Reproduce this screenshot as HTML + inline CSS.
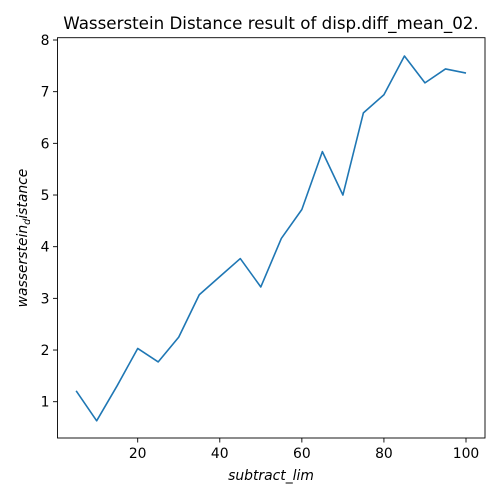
<!DOCTYPE html>
<html><head><meta charset="utf-8"><style>
html,body{margin:0;padding:0;background:#fff;width:500px;height:500px;overflow:hidden}
svg{display:block}
text{font-family:"DejaVu Sans","Liberation Sans",sans-serif;fill:#000}
</style></head><body>
<svg id="chart" width="500" height="500"></svg>
<script>
const xValues=[5,10,15,20,25,30,35,40,45,50,55,60,65,70,75,80,85,90,95,100];
const yValues=[1.21,0.63,1.31,2.03,1.77,2.25,3.07,3.42,3.77,3.22,4.16,4.72,5.84,5.0,6.59,6.94,7.69,7.17,7.44,7.36];
const xTicks=[20,40,60,80,100];
const yTicks=[1,2,3,4,5,6,7,8];
const L=57.5,R=485,T=37.7,B=438;
function sx(v){return 137.7+(v-20)*(466-137.7)/80;}
function sy(v){return 401.7-(v-1)*(401.7-40)/7;}
const svg=document.getElementById('chart');
const NS='http://www.w3.org/2000/svg';
function mk(tag,attrs,txt){const e=document.createElementNS(NS,tag);for(const k in attrs)e.setAttribute(k,attrs[k]);if(txt!==undefined)e.textContent=txt;svg.appendChild(e);return e;}
let t=mk('text',{x:271,y:29,'font-size':'16.7','text-anchor':'middle'},'Wasserstein Distance result of disp.diff_mean_02.');


let pts=xValues.map((x,i)=>sx(x).toFixed(2)+','+sy(yValues[i]).toFixed(2)).join(' ');
let line=mk('polyline',{points:pts,fill:'none',stroke:'#1f77b4','stroke-width':'1.6','stroke-linejoin':'round'});


let frame=mk('rect',{x:L,y:T,width:R-L,height:B-T,fill:'none',stroke:'#000','stroke-width':'0.9'});


xTicks.forEach(v=>{
  const x=sx(v);
  let tk=mk('line',{x1:x,x2:x,y1:B,y2:B+4.5,stroke:'#000','stroke-width':'0.9'});
  
  
  let lb=mk('text',{x:x,y:B+20,'font-size':'13.9','text-anchor':'middle'},String(v));
  
  
});
yTicks.forEach(v=>{
  const y=sy(v);
  let tk=mk('line',{x1:L-4.5,x2:L,y1:y,y2:y,stroke:'#000','stroke-width':'0.9'});
  
  
  let lb=mk('text',{x:L-8,y:y+5,'font-size':'13.9','text-anchor':'end'},String(v));
  
  
});
let xt=mk('text',{x:271,y:480,'font-size':'13.9','text-anchor':'middle','font-style':'italic'},'subtract_lim');


let yt=mk('text',{x:0,y:0,'font-size':'13.9','text-anchor':'middle','font-style':'italic',transform:'translate(27,238) rotate(-90)'});


const s1=document.createElementNS(NS,'tspan');s1.textContent='wasserstein';yt.appendChild(s1);
const s2=document.createElementNS(NS,'tspan');s2.setAttribute('font-size','9.7');s2.setAttribute('dy','3');s2.textContent='d';yt.appendChild(s2);
const s3=document.createElementNS(NS,'tspan');s3.setAttribute('dy','-3');s3.textContent='istance';yt.appendChild(s3);
</script>
</body></html>
